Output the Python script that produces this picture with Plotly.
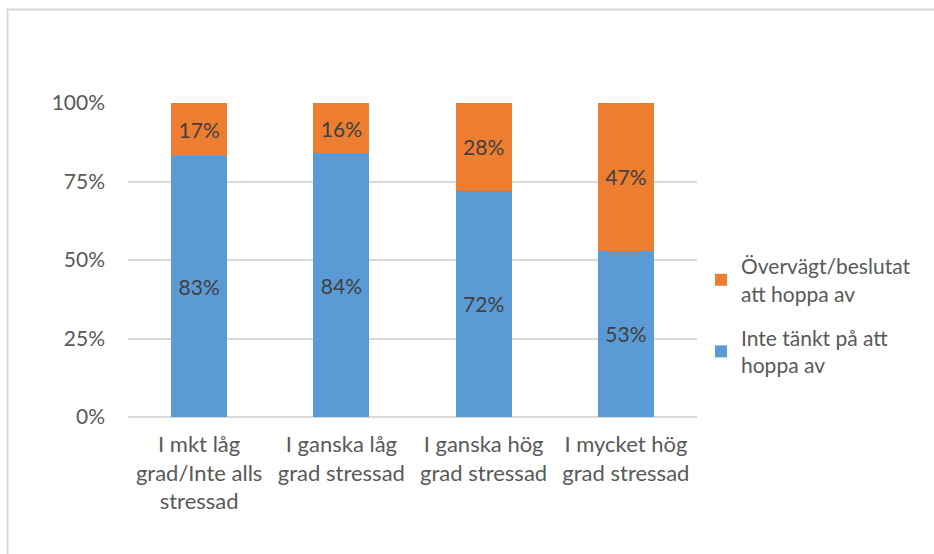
import plotly.graph_objects as go

categories = ["I mkt låg<br>grad/Inte alls<br>stressad", "I ganska låg<br>grad stressad",
              "I ganska hög<br>grad stressad", "I mycket hög<br>grad stressad"]
inte_tankt = [83, 84, 72, 53]
overvagt = [17, 16, 28, 47]
series_names = ["Inte tänkt på att<br>hoppa av", "Övervägt/beslutat<br>att hoppa av"]
tick_vals = [0, 25, 50, 75, 100]
tick_text = ["0%", "25%", "50%", "75%", "100%"]

FONT = "Lato"
FS = 21
W, H = 934, 554
L, R, T, B = 128, 237, 103, 137

fig = go.Figure()
fig.add_trace(go.Bar(x=categories, y=inte_tankt, name=series_names[0], legendgroup="a",
                     legendrank=2,
                     marker=dict(color="#5B9BD5", line=dict(width=0)),
                     text=[f"{v}%" for v in inte_tankt], textposition="inside",
                     insidetextanchor="middle",
                     textfont=dict(color="#404040", size=FS, family=FONT)))
fig.add_trace(go.Bar(x=categories, y=overvagt, name=series_names[1], legendgroup="b",
                     legendrank=1,
                     marker=dict(color="#ED7D31", line=dict(width=0)),
                     text=[f"{v}%" for v in overvagt], textposition="inside",
                     insidetextanchor="middle",
                     textfont=dict(color="#404040", size=FS, family=FONT)))

pw = W - L - R
ph = H - T - B
def px(x): return (x - L) / pw
def py(y): return (H - B - y) / ph

fig.update_layout(
    width=W, height=H,
    margin=dict(l=L, r=R, t=T, b=B),
    barmode="stack", bargap=0.606,
    paper_bgcolor="white", plot_bgcolor="white",
    font=dict(family=FONT, size=FS, color="#595959"),
    showlegend=True,
    legend=dict(x=px(701), y=py(246), xanchor="left", yanchor="top",
                traceorder="grouped", font=dict(size=FS, color="#595959"),
                tracegroupgap=14, itemwidth=30),
    uniformtext=dict(mode="show", minsize=10),
    shapes=[dict(type="rect", xref="paper", yref="paper",
                 x0=px(7.5), y0=py(H + 50), x1=px(W + 50), y1=py(9.5),
                 line=dict(color="#D9D9D9", width=2), fillcolor="rgba(0,0,0,0)",
                 layer="below")],
)
fig.update_yaxes(range=[0, 100], tickvals=tick_vals, ticktext=tick_text,
                 showgrid=True, gridcolor="#D9D9D9", gridwidth=2,
                 zeroline=True, zerolinecolor="#D9D9D9", zerolinewidth=2,
                 showline=False, ticks="", ticklabelstandoff=22)
fig.update_xaxes(showgrid=False, showline=False, ticks="", ticklabelstandoff=12,
                 tickfont=dict(size=22))

fig.write_html("out.html", config={"displayModeBar": False},
               post_script="document.body.style.margin='0';document.body.style.overflow='hidden';")
